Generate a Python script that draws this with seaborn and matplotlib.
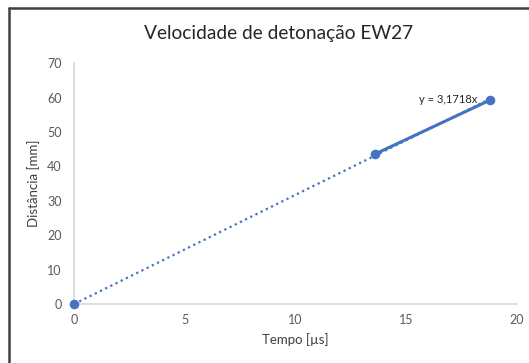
import matplotlib
matplotlib.use("Agg")
import matplotlib.pyplot as plt
from matplotlib.lines import Line2D
import seaborn as sns
import pandas as pd
import numpy as np

# Measured detonation front positions
tempo_us = [0.0, 13.6, 18.8]
distancia_mm = [0.0, 43.6, 59.3]
slope = 3.1718  # linear fit through the origin
x_ticks = [0, 5, 10, 15, 20]
y_ticks = [0, 10, 20, 30, 40, 50, 60, 70]

sns.set_style("white")
plt.rcParams["font.family"] = ["Lato", "DejaVu Sans"]

blue = "#4472C4"
tick_color = "#595959"

df = pd.DataFrame({"t": tempo_us, "d": distancia_mm})

fig = plt.figure(figsize=(5.29, 3.63), dpi=100)
ax = fig.add_axes([0.140, 0.1625, 0.837, 0.6635])

# Dotted trend line y = slope * x
trend = pd.DataFrame({"t": [0.0, tempo_us[-1]]})
trend["d"] = slope * trend["t"]
sns.lineplot(data=trend, x="t", y="d", ax=ax, color=blue, linestyle=(0, (1, 1.6)),
             linewidth=1.6, zorder=2)

# Solid segment between the two later measurements
sns.lineplot(data=df.iloc[1:], x="t", y="d", ax=ax, color=blue, linewidth=2.2, zorder=3)

# Markers for every measurement
sns.scatterplot(data=df, x="t", y="d", ax=ax, color=blue, s=48, edgecolor=blue,
                linewidth=0, zorder=4, clip_on=False)

ax.text(tempo_us[-1] - 0.6, slope * tempo_us[-1] - 0.2, "y = 3,1718x",
        ha="right", va="center", fontsize=8, color="#262626")

ax.set_xlim(0, 20)
ax.set_ylim(0, 70)
ax.set_xticks(x_ticks)
ax.set_yticks(y_ticks)
ax.tick_params(axis="both", length=0, labelsize=9, colors=tick_color, pad=7)
ax.tick_params(axis="y", pad=9)

for side in ["top", "right"]:
    ax.spines[side].set_visible(False)
for side in ["left", "bottom"]:
    ax.spines[side].set_color("#D9D9D9")
    ax.spines[side].set_linewidth(1.2)

ax.set_xlabel("Tempo [µs]", fontsize=9.5, color="#404040", labelpad=5)
ax.set_ylabel("Distância [mm]", fontsize=9.5, color="#404040", labelpad=5)

fig.text(0.527, 0.909, "Velocidade de detonação EW27", ha="center", va="center",
         fontsize=13.8, color="#262626")

# Chart frame edges along the top and left
fig.add_artist(Line2D([9 / 529, 1.0], [1 - 8 / 363, 1 - 8 / 363], color="#404040",
                      linewidth=1.8, transform=fig.transFigure))
fig.add_artist(Line2D([9 / 529, 9 / 529], [0.0, 1 - 8 / 363], color="#404040",
                      linewidth=1.8, transform=fig.transFigure))

fig.savefig("out.png", dpi=100)
